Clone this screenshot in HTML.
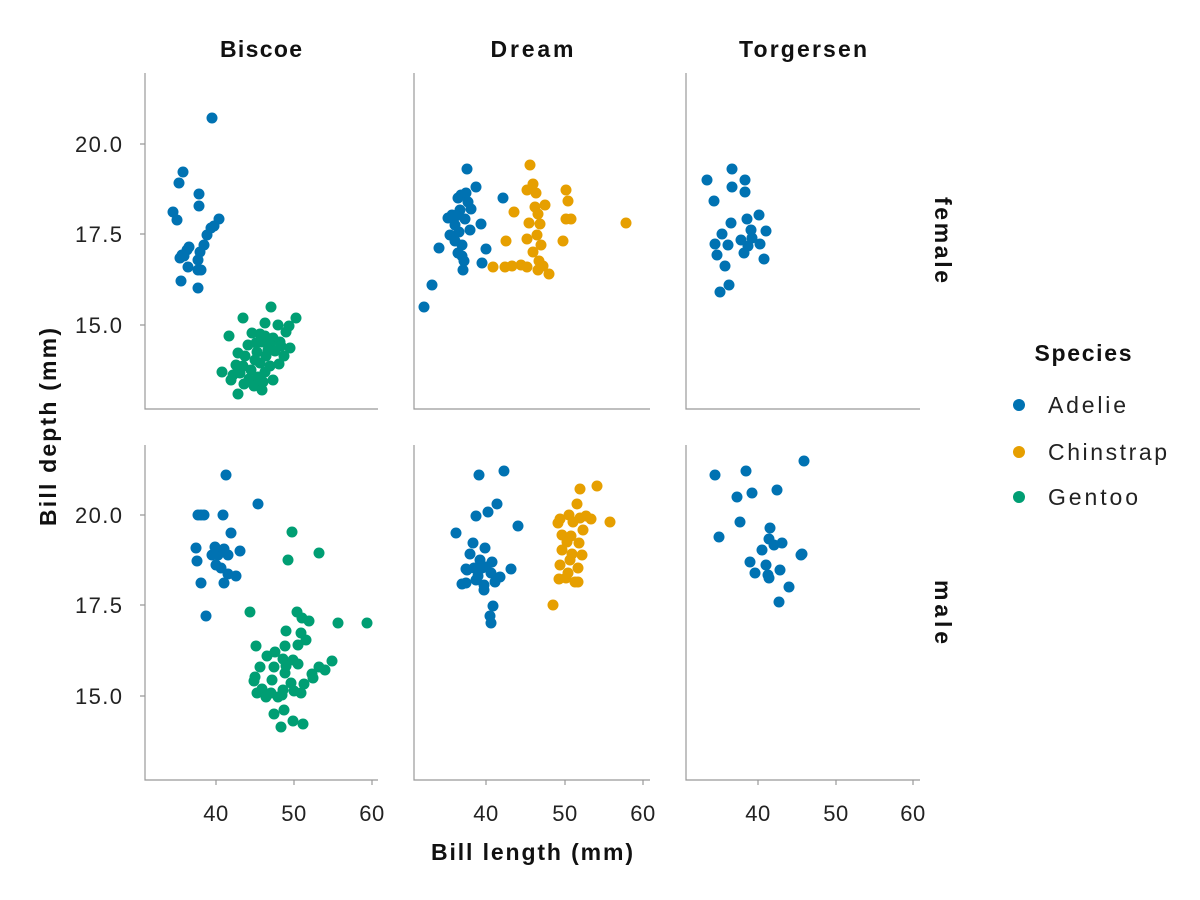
<!DOCTYPE html>
<html><head><meta charset="utf-8"><style>
html,body{margin:0;padding:0;background:#fff}
svg{display:block;font-family:"Liberation Sans",sans-serif}
</style></head><body>
<svg id="s" width="1200" height="900" xmlns="http://www.w3.org/2000/svg">
<g stroke="#999" stroke-width="1.2" fill="none">
<path d="M145,73V409H378M414,73V409H650M686,73V409H920"/>
<path d="M145,445V780H378M414,445V780H650M686,445V780H920"/>
<path d="M216,780v5M294,780v5M372,780v5M486,780v5M565,780v5M643,780v5M758,780v5M836,780v5M913,780v5"/>
<path d="M145,144h-5M145,234h-5M145,325h-5M145,515h-5M145,605h-5M145,696h-5"/>
</g>
<g font-size="22" fill="#222" text-anchor="middle" letter-spacing="0.5">
<text x="216" y="821">40</text><text x="294" y="821">50</text><text x="372" y="821">60</text>
<text x="486" y="821">40</text><text x="565" y="821">50</text><text x="643" y="821">60</text>
<text x="758" y="821">40</text><text x="836" y="821">50</text><text x="913" y="821">60</text>
</g>
<g font-size="22" fill="#222" text-anchor="end">
<text x="122" y="152" textLength="47">20.0</text><text x="122" y="242" textLength="47">17.5</text><text x="122" y="333" textLength="47">15.0</text>
<text x="122" y="523" textLength="47">20.0</text><text x="122" y="613" textLength="47">17.5</text><text x="122" y="704" textLength="47">15.0</text>
</g>
<g font-size="23" font-weight="bold" fill="#111" text-anchor="middle">
<text x="261" y="57" textLength="82">Biscoe</text><text x="532" y="57" textLength="83">Dream</text><text x="803" y="57" textLength="128">Torgersen</text>
<text x="532" y="860" textLength="202">Bill length (mm)</text>
<text transform="translate(56,427) rotate(-90)" textLength="198">Bill depth (mm)</text>
<text transform="translate(935,240) rotate(90)" textLength="86">female</text>
<text transform="translate(935,612) rotate(90)" textLength="64">male</text>
<text x="1083" y="361" textLength="97">Species</text>
</g>
<g font-size="23" fill="#222">
<text x="1048" y="413" textLength="78">Adelie</text><text x="1048" y="460" textLength="119">Chinstrap</text><text x="1048" y="505" textLength="90">Gentoo</text>
</g>
<circle cx="1019" cy="405" r="6" fill="#0072B2"/><circle cx="1019" cy="452" r="6" fill="#E69F00"/><circle cx="1019" cy="497" r="6" fill="#009E73"/>
<g id="pts"></g>
</svg>
<script>
var A="#0072B2",C="#E69F00",G="#009E73";
var d=[
[A,[212,118,183,172,179,183,173,212,177,220,199,194,199,206,189,247,184,256,188,267,181,281,198,260,198,270,200,252,204,245,207,235,211,228,214,226,219,219,201,270,187,250,182,255,180,258,198,288]],
[G,[271,307,243,318,296,318,265,323,278,325,289,326,229,336,252,333,260,334,265,336,273,338,286,332,256,343,262,342,270,345,280,342,290,348,238,353,245,356,257,352,266,356,275,351,284,356,243,366,251,370,260,363,270,366,279,364,222,372,233,375,240,373,249,379,258,377,265,372,273,380,231,380,244,384,254,386,262,390,238,394,263,382,255,360,268,350,281,346,248,345,236,365]],
[A,[467,169,424,307,432,285,439,248,450,235,452,215,455,225,458,198,460,210,461,195,462,245,466,193,468,202,471,209,476,187,463,270,462,256,455,241,459,232,464,261,470,230,448,218,456,216,481,224,486,249,482,263,503,198,465,219,458,253]],
[C,[530,165,533,184,527,190,536,193,514,212,545,205,566,190,568,201,535,207,538,214,529,223,540,224,537,235,527,239,533,252,506,241,505,267,521,265,493,267,512,266,527,267,539,261,543,266,538,270,549,274,563,241,566,219,571,219,626,223,541,245]],
[A,[732,169,707,180,714,201,745,180,732,187,745,192,731,223,747,219,759,215,766,231,722,234,715,244,728,245,748,246,752,238,744,253,760,244,717,255,764,259,725,266,729,285,720,292,751,230,741,240]],
[A,[226,475,198,515,201,515,204,515,223,515,231,533,224,549,240,551,196,548,212,555,218,555,228,555,197,561,216,565,221,568,228,574,201,583,236,576,224,583,206,616,258,504,215,547]],
[G,[292,532,319,553,288,560,250,612,297,612,302,618,309,621,338,623,367,623,286,631,301,633,306,640,256,646,275,652,285,646,298,645,267,656,283,659,293,660,260,667,274,667,286,666,298,664,319,667,332,661,312,674,325,670,255,677,272,680,285,673,291,683,304,684,313,678,254,681,262,689,271,693,283,690,294,691,274,714,284,710,301,693,257,693,266,697,278,697,282,695,293,721,303,724,281,727]],
[A,[479,475,504,471,497,504,488,512,476,516,518,526,456,533,473,543,485,548,480,560,470,554,492,562,466,569,482,568,474,568,486,567,491,573,478,576,500,577,511,569,466,583,462,584,484,585,495,582,484,590,493,606,490,616,491,623,467,570,476,580]],
[C,[580,489,597,486,577,504,560,519,569,515,580,518,558,523,573,522,586,516,591,519,562,535,571,536,583,530,567,542,579,543,562,550,572,554,582,555,560,565,570,560,578,568,559,579,566,578,578,582,553,605,610,522,575,582,568,573]],
[A,[715,475,746,471,804,461,737,497,752,493,777,490,719,537,740,522,770,528,769,539,762,550,774,545,782,543,801,555,750,562,766,565,755,573,768,575,780,570,769,578,789,587,779,602,802,554]]
];
var s="";d.forEach(function(g){for(var i=0;i<g[1].length;i+=2)s+='<circle cx="'+g[1][i]+'" cy="'+g[1][i+1]+'" r="5.5" fill="'+g[0]+'"/>';});
document.getElementById("pts").innerHTML=s;
</script>
</body></html>
